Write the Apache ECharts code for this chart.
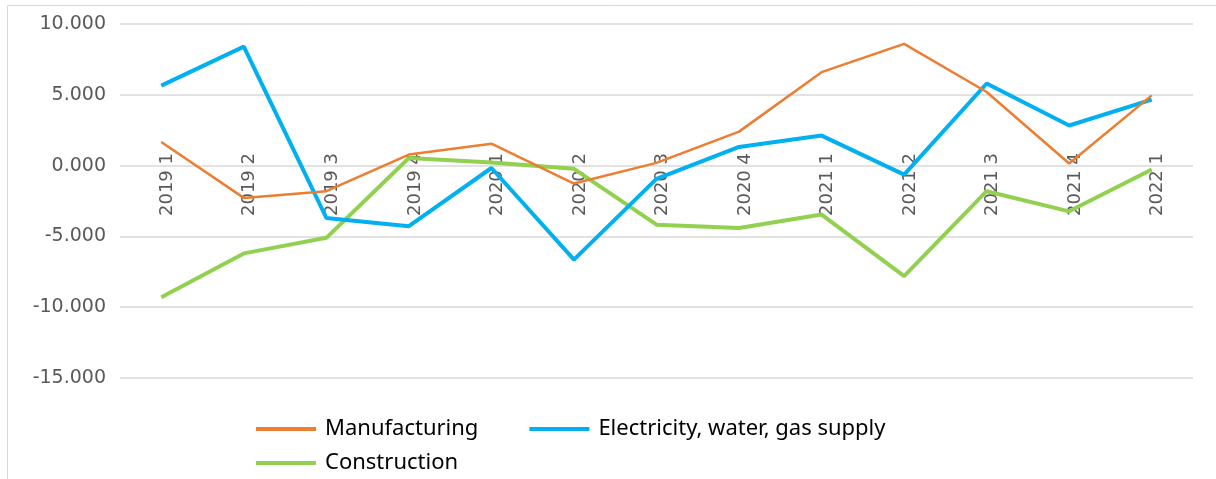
<!DOCTYPE html>
<html>
<head>
<meta charset="utf-8">
<script src="https://cdn.jsdelivr.net/npm/echarts@6/dist/echarts.min.js"></script>
<style>
html,body{margin:0;padding:0;background:#fff;}
#chart{width:1216px;height:479px;}
</style>
</head>
<body>
<div id="chart"></div>
<script>
const categories = ['2019 1','2019 2','2019 3','2019 4','2020 1','2020 2','2020 3','2020 4','2021 1','2021 2','2021 3','2021 4','2022 1'];
const manufacturing = [1.67, -2.28, -1.81, 0.78, 1.55, -1.27, 0.19, 2.4, 6.6, 8.6, 5.2, 0.15, 4.96];
const electricity = [5.65, 8.4, -3.7, -4.28, -0.17, -6.64, -0.94, 1.32, 2.12, -0.64, 5.8, 2.83, 4.66];
const construction = [-9.3, -6.2, -5.1, 0.54, 0.22, -0.23, -4.17, -4.4, -3.46, -7.8, -1.81, -3.23, -0.28];
const yTicks = {min: -15, max: 10, interval: 5};
const seriesNames = ['Manufacturing', 'Electricity, water, gas supply', 'Construction'];

const chart = echarts.init(document.getElementById('chart'), null, {renderer: 'canvas'});
chart.setOption({
  animation: false,
  backgroundColor: '#ffffff',
  graphic: [{
    type: 'rect', left: 5, top: 3, silent: true, z: -1,
    shape: {width: 1300, height: 600},
    style: {fill: 'none', stroke: '#d9d9d9', lineWidth: 1}
  }],
  grid: {left: 120, right: 23, top: 24, bottom: 101, containLabel: false},
  legend: {
    left: 256, top: 417, width: 740, padding: 0,
    itemWidth: 60, itemHeight: 4, itemGap: 10,
    icon: 'rect',
    textStyle: {fontFamily: 'Noto Sans', fontSize: 22, lineHeight: 24, color: '#000000', padding: [0,0,0,4]},
    data: [
      {name: seriesNames[0], textStyle: {padding: [0, 41, 0, 4]}},
      {name: seriesNames[1]},
      {name: seriesNames[2]}
    ]
  },
  xAxis: {
    type: 'category',
    data: categories,
    boundaryGap: true,
    axisLine: {show: false},
    axisTick: {show: false},
    axisLabel: {
      rotate: 90, margin: -225, interval: 0,
      fontFamily: 'DejaVu Sans', fontSize: 18, color: '#595959',
      formatter: v => '{s| }\n{t|' + v + '}',
      rich: {
        s: {fontSize: 6, lineHeight: 12},
        t: {fontFamily: 'DejaVu Sans', fontSize: 18, lineHeight: 22, color: '#595959'}
      }
    },
    splitLine: {show: false}
  },
  yAxis: {
    type: 'value',
    min: yTicks.min, max: yTicks.max, interval: yTicks.interval,
    axisLine: {show: false},
    axisTick: {show: false},
    axisLabel: {
      margin: 14, fontFamily: 'DejaVu Sans', fontSize: 19, color: '#595959',
      formatter: v => v.toFixed(3)
    },
    splitLine: {lineStyle: {color: '#d9d9d9', width: 1.5}}
  },
  series: [
    {name: seriesNames[0], type: 'line', data: manufacturing, symbol: 'none',
     itemStyle: {color: '#ED7D31'}, lineStyle: {color: '#ED7D31', width: 2.5}, z: 3},
    {name: seriesNames[1], type: 'line', data: electricity, symbol: 'none',
     itemStyle: {color: '#00B0F0'}, lineStyle: {color: '#00B0F0', width: 4}, z: 2},
    {name: seriesNames[2], type: 'line', data: construction, symbol: 'none',
     itemStyle: {color: '#92D050'}, lineStyle: {color: '#92D050', width: 4}, z: 1}
  ]
});
</script>
</body>
</html>
